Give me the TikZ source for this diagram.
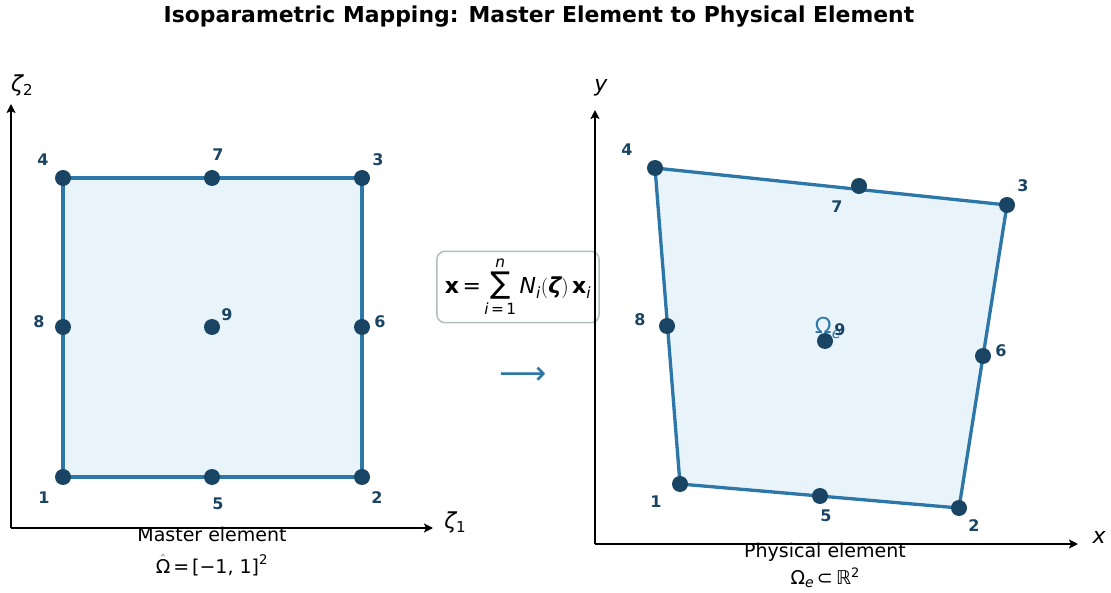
\documentclass[tikz,border=0pt]{standalone}
\usepackage{fontspec}
\usepackage{amsmath}
\setmainfont{DejaVu Sans}
\usetikzlibrary{arrows.meta}
\definecolor{edgeblue}{HTML}{2C76A8}
\definecolor{fillblue}{HTML}{E8F3FA}
\definecolor{dotblue}{HTML}{1A4464}
\definecolor{boxedge}{HTML}{B0BEBE}
\tikzset{
  elem/.style={draw=edgeblue, line width=3.3pt, fill=fillblue, line join=round},
  dot/.style={circle, fill=dotblue, inner sep=0pt, minimum size=16pt},
  num/.style={text=dotblue, font=\fontsize{16}{18}\selectfont\bfseries, inner sep=0pt},
  axis/.style={draw=black, line width=2pt, -{Stealth[length=9pt,width=9pt,inset=2pt]}},
  axlab/.style={font=\fontsize{22}{26}\selectfont, inner sep=0pt},
  captext/.style={font=\fontsize{19}{22}\selectfont, inner sep=0pt},
  fbox/.style={draw=boxedge, line width=1.5pt, fill=white, rounded corners=8pt, inner xsep=8pt, inner ysep=6pt, font=\fontsize{22}{26}\selectfont},
}
\begin{document}
\begin{tikzpicture}[x=1pt,y=-1pt]
\useasboundingbox (0,0) rectangle (1111,593);
% title
\node[font=\fontsize{21.9}{26}\selectfont\bfseries, inner sep=0pt] (title) at (539,17) {Isoparametric Mapping: Master Element to Physical Element};

% ---------------- master element ----------------
\coordinate (o1) at (11,528);
\coordinate (ax1) at (433,528);
\coordinate (ay1) at (11,104);
\draw[axis] (o1) -- (ax1);
\draw[axis] (o1) -- (ay1);
\node[axlab] (z1) at (455,522) {\itshape ζ\raisebox{-0.35ex}{\upshape\fontsize{15}{18}\selectfont 1}};
\node[axlab] (z2) at (22,85) {\itshape ζ\raisebox{-0.35ex}{\upshape\fontsize{15}{18}\selectfont 2}};

\coordinate (m1) at (63,477);
\coordinate (m2) at (362,477);
\coordinate (m3) at (362,178);
\coordinate (m4) at (63,178);
\draw[elem] (m1) -- (m2) -- (m3) -- (m4) -- cycle;
\node[dot] (n1) at (m1) {};
\node[dot] (n2) at (m2) {};
\node[dot] (n3) at (m3) {};
\node[dot] (n4) at (m4) {};
\node[dot] (n5) at (212,477) {};
\node[dot] (n6) at (362,327) {};
\node[dot] (n7) at (212,178) {};
\node[dot] (n8) at (63,327) {};
\node[dot] (n9) at (212,327) {};
\node[num] (l1) at (44,498) {1};
\node[num] (l2) at (377,498) {2};
\node[num] (l3) at (378,160) {3};
\node[num] (l4) at (43,160) {4};
\node[num] (l5) at (218,504) {5};
\node[num] (l6) at (380,322) {6};
\node[num] (l7) at (218,155) {7};
\node[num] (l8) at (39,322) {8};
\node[num] (l9) at (227,315) {9};
\node[captext] (mc1) at (212,534) {Master element};
\node[captext] (mc2) at (212,565) {$\hat{\text{Ω}}\,\text{=}\,\text{[−1, 1]}^{\text{2}}$};

% ---------------- mapping ----------------
\node[fbox] (f) at (518,287) {$\text{\bfseries x}\,\text{=}\mathop{\text{\fontsize{30}{30}\selectfont ∑}}\limits_{\text{\itshape i}\,\text{=}\,\text{1}}^{\text{\itshape n}} \text{\itshape N}_{\text{\itshape i}}(\text{\bfseries\itshape ζ})\,\text{\bfseries x}_{\text{\itshape i}}$};
\node[text=edgeblue, font=\fontsize{33}{34}\selectfont, inner sep=0pt] (arr) at (523,376) {⟶};

% ---------------- physical element ----------------
\coordinate (o2) at (595,544);
\coordinate (ax2) at (1078,544);
\coordinate (ay2) at (595,110);
\draw[axis] (o2) -- (ax2);
\draw[axis] (o2) -- (ay2);
\node[axlab] (xl) at (1099,537) {\itshape x};
\node[axlab] (yl) at (601,88) {\itshape y};

\coordinate (p1) at (680,484);
\coordinate (p2) at (959,508);
\coordinate (p3) at (1007,205);
\coordinate (p4) at (655,168);
\draw[elem] (p1) -- (p2) -- (p3) -- (p4) -- cycle;
\node[text=edgeblue, font=\fontsize{22}{26}\selectfont, inner sep=0pt] (omega) at (828,328) {Ω\raisebox{-0.35ex}{\itshape\fontsize{15}{18}\selectfont e}};
\node[dot] (q1) at (p1) {};
\node[dot] (q2) at (p2) {};
\node[dot] (q3) at (p3) {};
\node[dot] (q4) at (p4) {};
\node[dot] (q5) at (820,496) {};
\node[dot] (q6) at (983,356) {};
\node[dot] (q7) at (859,186) {};
\node[dot] (q8) at (667,326) {};
\node[dot] (q9) at (825,341) {};
\node[num] (k1) at (656,502) {1};
\node[num] (k2) at (974,526) {2};
\node[num] (k3) at (1023,186) {3};
\node[num] (k4) at (627,150) {4};
\node[num] (k5) at (826,516) {5};
\node[num] (k6) at (1001,351) {6};
\node[num] (k7) at (837,207) {7};
\node[num] (k8) at (640,320) {8};
\node[num] (k9) at (840,330) {9};
\node[captext] (pc1) at (825,552) {Physical element};
\node[captext] (pc2) at (825,578) {Ω\raisebox{-0.35ex}{\itshape\fontsize{14}{16}\selectfont e}\,⊂\,ℝ\raisebox{0.6ex}{\fontsize{13}{16}\selectfont 2}};
\end{tikzpicture}
\end{document}
